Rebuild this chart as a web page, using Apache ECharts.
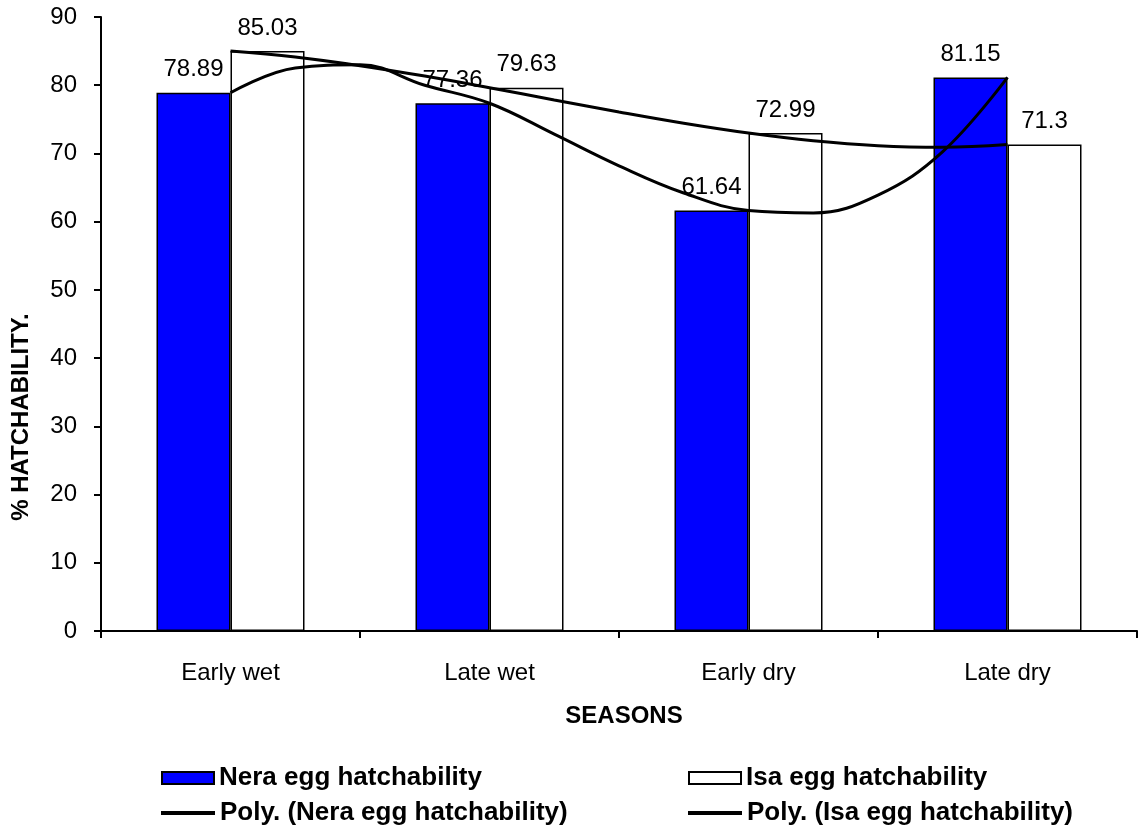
<!DOCTYPE html>
<html>
<head>
<meta charset="utf-8">
<script src="https://cdn.jsdelivr.net/npm/echarts@6/dist/echarts.min.js"></script>
<style>
  html, body { margin: 0; padding: 0; background: #fff; }
  #chart { width: 1144px; height: 833px; }
</style>
</head>
<body>
<div id="chart"></div>
<script>
// ---- data ----
var seasons = ['Early wet', 'Late wet', 'Early dry', 'Late dry'];
var neraValues = [78.89, 77.36, 61.64, 81.15];
var isaValues = [85.03, 79.63, 72.99, 71.3];
// polynomial trend curves at quarter-category steps
var trendX = [1, 1.25, 1.5, 1.75, 2, 2.25, 2.5, 2.75, 3, 3.25, 3.5, 3.75, 4];
var neraTrend = [78.89, 82.54, 82.99, 80.0, 77.36, 72.83, 68.19, 64.2, 61.64, 61.28, 63.9, 70.27, 81.15];
var isaTrend = [85.03, 84.14, 82.87, 81.34, 79.63, 77.84, 76.08, 74.43, 72.99, 71.86, 71.14, 70.92, 71.3];
var yTicks = [0, 10, 20, 30, 40, 50, 60, 70, 80, 90];

var FONT = '"Liberation Sans", Arial, sans-serif';

function pairs(xs, ys) {
  return xs.map(function (x, i) { return [x, ys[i]]; });
}

var chart = echarts.init(document.getElementById('chart'), null, { renderer: 'canvas' });

function legendAt(name, left, top, icon, w, h) {
  return {
    data: [name],
    left: left,
    top: top,
    padding: 0,
    icon: icon,
    itemWidth: w,
    itemHeight: h,
    selectedMode: false,
    textStyle: { fontFamily: FONT, fontSize: 26, fontWeight: 'bold', color: '#000', lineHeight: 28, padding: [0, 0, 0, 0] }
  };
}

var option = {
  animation: false,
  backgroundColor: '#fff',
  grid: { left: 101, right: 7, top: 17, bottom: 202, containLabel: false },
  xAxis: [
    {
      type: 'category',
      data: seasons,
      boundaryGap: true,
      axisLine: { lineStyle: { color: '#000', width: 2 } },
      axisTick: { show: true, inside: false, length: 7, alignWithLabel: false, lineStyle: { color: '#000', width: 2 } },
      axisLabel: { fontFamily: FONT, fontSize: 24, color: '#000', margin: 30 },
      name: 'SEASONS',
      nameLocation: 'middle',
      nameGap: 73,
      nameTextStyle: { fontFamily: FONT, fontSize: 24, fontWeight: 'bold', color: '#000', padding: [0, 0, 0, 10] },
      splitLine: { show: false }
    },
    {
      type: 'value',
      min: 0.5,
      max: 4.5,
      show: false,
      position: 'bottom'
    }
  ],
  yAxis: {
    type: 'value',
    min: 0,
    max: 90,
    interval: 10,
    axisLine: { show: true, lineStyle: { color: '#000', width: 2 } },
    axisTick: { show: true, inside: false, length: 7, lineStyle: { color: '#000', width: 2 } },
    axisLabel: {
      fontFamily: FONT, fontSize: 24, color: '#000', margin: 24,
      formatter: function (v) { return yTicks.indexOf(v) >= 0 ? String(v) : ''; }
    },
    splitLine: { show: false }
  },
  legend: [
    legendAt('Nera egg hatchability', 161, 764, 'rect', 52, 12),
    legendAt('Isa egg hatchability', 688, 764, 'rect', 52, 12),
    legendAt('Poly. (Nera egg hatchability)', 161, 799, 'rect', 54, 4),
    legendAt('Poly. (Isa egg hatchability)', 688, 799, 'rect', 54, 4)
  ],
  graphic: [
    {
      type: 'text',
      x: 21,
      y: 417,
      rotation: Math.PI / 2,
      style: {
        text: '% HATCHABILITY.',
        fontFamily: FONT,
        fontSize: 24,
        fontWeight: 'bold',
        fill: '#000',
        align: 'center',
        verticalAlign: 'middle'
      }
    }
  ],
  series: [
    {
      name: 'Nera egg hatchability',
      type: 'bar',
      xAxisIndex: 0,
      data: neraValues,
      barWidth: 74,
      barGap: '0%',
      z: 2,
      itemStyle: { color: '#0000FF', borderColor: '#000', borderWidth: 1.5 },
      label: { show: true, position: 'top', distance: 11, fontFamily: FONT, fontSize: 24, color: '#000' }
    },
    {
      name: 'Isa egg hatchability',
      type: 'bar',
      xAxisIndex: 0,
      data: isaValues,
      barWidth: 74,
      barGap: '0%',
      z: 2,
      itemStyle: { color: '#FFFFFF', borderColor: '#000', borderWidth: 1.5 },
      label: { show: true, position: 'top', distance: 11, fontFamily: FONT, fontSize: 24, color: '#000' }
    },
    {
      name: 'Poly. (Nera egg hatchability)',
      type: 'line',
      xAxisIndex: 1,
      data: pairs(trendX, neraTrend),
      smooth: 0.4,
      showSymbol: false,
      symbol: 'none',
      z: 10,
      color: '#000',
      itemStyle: { color: '#000' },
      lineStyle: { color: '#000', width: 3 }
    },
    {
      name: 'Poly. (Isa egg hatchability)',
      type: 'line',
      xAxisIndex: 1,
      data: pairs(trendX, isaTrend),
      smooth: 0.4,
      showSymbol: false,
      symbol: 'none',
      z: 10,
      color: '#000',
      itemStyle: { color: '#000' },
      lineStyle: { color: '#000', width: 3 }
    }
  ]
};

chart.setOption(option);
</script>
</body>
</html>
